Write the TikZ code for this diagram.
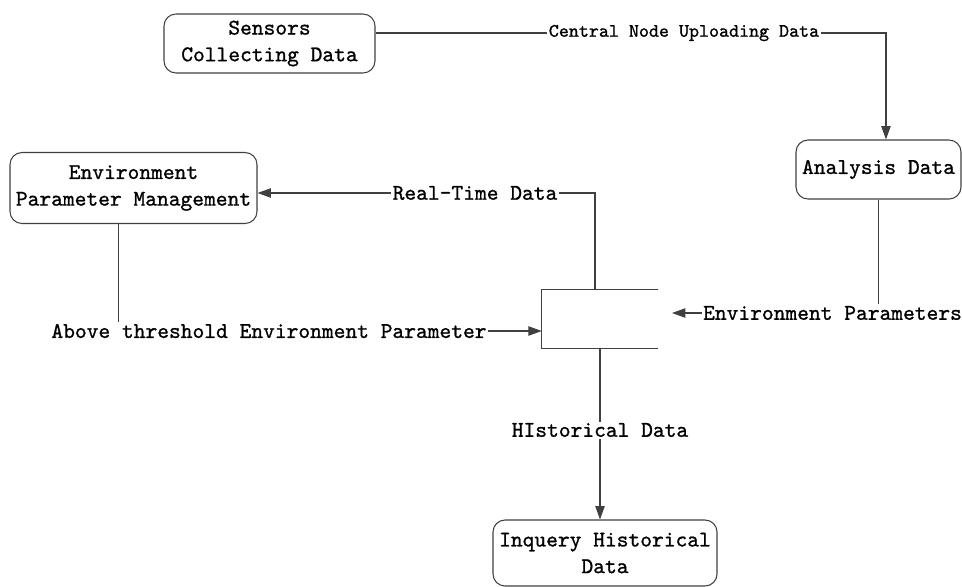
\documentclass[tikz,border=0pt]{standalone}
\usepackage{fontspec}
\newfontfamily\dfdfont{lmmono10-regular.otf}[FakeBold=1]
\usetikzlibrary{arrows.meta,positioning}

\begin{document}
\begin{tikzpicture}[x=0.75pt,y=-0.75pt,
  font=\dfdfont\fontsize{16.8}{20}\selectfont,
  box/.style={draw=black!75,line width=0.8pt,rounded corners=9pt,align=center,inner sep=0pt},
  lbl/.style={inner sep=1pt},
  wire/.style={draw=black!75,line width=0.8pt},
  flow/.style={wire,-{Triangle[length=10pt,width=7pt]}}]
\useasboundingbox (0,0) rectangle (962,586);
% processes
\node[box,minimum width=158.25pt,minimum height=44.25pt] (sens) at (269.5,43.5) {Sensors\\Collecting Data};
\node[box,minimum width=123.75pt,minimum height=44.25pt] (anal) at (878.5,169.5) {Analysis Data};
\node[box,minimum width=185.25pt,minimum height=53.25pt] (envm) at (133.5,188) {Environment\\Parameter Management};
\node[box,minimum width=168pt,minimum height=49.5pt] (inq) at (605,553) {Inquery Historical\\Data};
% data store (open on the right)
\node[minimum width=87pt,minimum height=43.5pt,inner sep=0pt] (store) at (600,319) {};
\draw[wire] (store.north east) -- (store.north west) -- (store.south west) -- (store.south east);
% flow labels
\node[lbl,font=\dfdfont\fontsize{14.3}{17}\selectfont] (cnu) at (684,33) {Central Node Uploading Data};
\node[lbl] (ep) at (832.5,313) {Environment Parameters};
\node[lbl] (rtd) at (475,193) {Real-Time Data};
\node[lbl] (ath) at (269,331) {Above threshold Environment Parameter};
\node[lbl] (hd) at (600,430) {HIstorical Data};
\coordinate (epin) at (672,313);
% flows
\draw[wire] (sens.east |- cnu) -- (cnu.west);
\draw[flow] (cnu.east) -| ([xshift=5.6pt]anal.north);
\draw[wire] (anal.south) -- (anal.south |- ep.north);
\draw[flow] (ep.west) -- (epin);
\draw[wire] ([xshift=-3.75pt]store.north) |- (rtd.east);
\draw[flow] (rtd.west) -- (envm.east |- rtd);
\draw[wire] ([xshift=-11.6pt]envm.south) -- ([xshift=-11.6pt]envm.south |- ath.north);
\draw[flow] (ath.east) -- (store.west |- ath);
\draw[wire] (store.south) -- (hd.north);
\draw[flow] (hd.south) -- (hd.south |- inq.north);
\end{tikzpicture}
\end{document}
